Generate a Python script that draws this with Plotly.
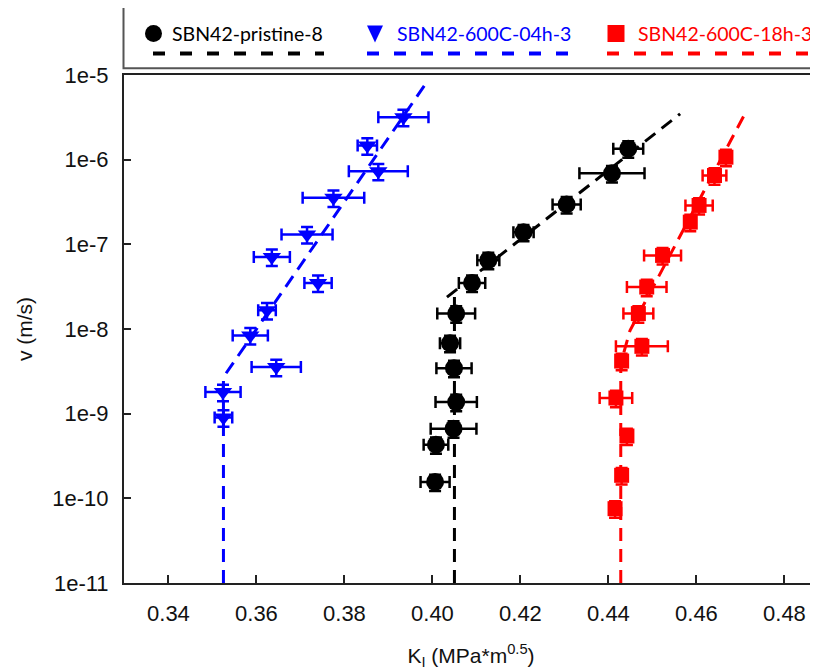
import plotly.graph_objects as go

# ---------------- data ----------------
black_name = "SBN42-pristine-8"
black_k = [0.4445, 0.4408, 0.4305, 0.4207, 0.4127, 0.4090, 0.4054, 0.4040, 0.4049, 0.4054, 0.4048, 0.4008, 0.4006]
black_v = [1.35e-6, 6.9e-7, 2.96e-7, 1.39e-7, 6.5e-8, 3.5e-8, 1.52e-8, 6.8e-9, 3.45e-9, 1.37e-9, 6.65e-10, 4.3e-10, 1.56e-10]
black_kerr = [0.0034, 0.0074, 0.0032, 0.0023, 0.0025, 0.0030, 0.0043, 0.0023, 0.0040, 0.0047, 0.0052, 0.0028, 0.0033]

blue_name = "SBN42-600C-04h-3"
blue_k = [0.3934, 0.3852, 0.3877, 0.3775, 0.3715, 0.3635, 0.3740, 0.3624, 0.3586, 0.3645, 0.3524, 0.3525]
blue_v = [3.18e-6, 1.47e-6, 7.3e-7, 3.55e-7, 1.31e-7, 7.1e-8, 3.5e-8, 1.66e-8, 8.4e-9, 3.55e-9, 1.8e-9, 9.0e-10]
blue_kerr = [0.0057, 0.0022, 0.0067, 0.0070, 0.0058, 0.0041, 0.0031, 0.0020, 0.0040, 0.0056, 0.0040, 0.0020]

red_name = "SBN42-600C-18h-3"
red_k = [0.4667, 0.4641, 0.4606, 0.4586, 0.4523, 0.4487, 0.4468, 0.4476, 0.4430, 0.4417, 0.4442, 0.4430, 0.4415]
red_v = [1.07e-6, 6.5e-7, 2.88e-7, 1.83e-7, 7.4e-8, 3.13e-8, 1.52e-8, 6.24e-9, 4.18e-9, 1.53e-9, 5.45e-10, 1.87e-10, 7.55e-11]
red_kerr = [0.0, 0.0027, 0.0031, 0.0, 0.0042, 0.0045, 0.0034, 0.0059, 0.0, 0.0037, 0.0, 0.0, 0.0]

v_err_percent = 22

# fit lines (threshold + power-law region)
black_fit_k = [0.405, 0.405, None, 0.4033, 0.4563]
black_fit_v = [1e-11, 2.5e-8, None, 2.38e-8, 3.48e-6]
blue_fit_k = [0.3525, 0.3525, None, 0.3531, 0.3987]
blue_fit_v = [1e-11, 3.0e-9, None, 3.0e-9, 8.2e-6]
red_fit_k = [0.4428, 0.4428, 0.4449, 0.4707]
red_fit_v = [1e-11, 3.9e-9, 9.6e-9, 3.24e-6]

x_ticks = [0.34, 0.36, 0.38, 0.40, 0.42, 0.44, 0.46, 0.48]
y_ticks = [1e-11, 1e-10, 1e-9, 1e-8, 1e-7, 1e-6, 1e-5]
y_ticktext = ["1e-11", "1e-10", "1e-9", "1e-8", "1e-7", "1e-6", "1e-5"]

x_title = "K<sub>I</sub> (MPa*m<sup>0.5</sup>)"
y_title = "v (m/s)"

# ---------------- figure ----------------
BLACK, BLUE, RED = "#000000", "#0000ff", "#ff0000"
OFF = 8  # page body margin of the browser
W, H = 818 - OFF, 670 - OFF
ML, MR, MT, MB = 124 - OFF, 0, 75 - OFF, 87
PW, PH = W - ML - MR, H - MT - MB


def px_x(px):
    # px measured in reference window pixels
    return (px - OFF - ML) / PW


def px_y(py):
    return (H - MB - (py - OFF)) / PH


fig = go.Figure()


def add_points(k, v, kerr, color, symbol, size):
    fig.add_trace(go.Scatter(
        x=k, y=v, mode="markers",
        marker=dict(color=color, symbol=symbol, size=size, line=dict(width=0)),
        error_x=dict(type="data", array=kerr, symmetric=True, color=color, thickness=2.5, width=6),
        error_y=dict(type="percent", value=v_err_percent, color=color, thickness=2.5, width=6),
        showlegend=False, hoverinfo="skip",
    ))


add_points(black_k, black_v, black_kerr, BLACK, "circle", 18)
add_points(blue_k, blue_v, blue_kerr, BLUE, "triangle-down", 16)
add_points(red_k, red_v, red_kerr, RED, "square", 15)

for fk, fv, col in [(black_fit_k, black_fit_v, BLACK), (blue_fit_k, blue_fit_v, BLUE), (red_fit_k, red_fit_v, RED)]:
    fig.add_trace(go.Scatter(
        x=fk, y=fv, mode="lines", connectgaps=False,
        line=dict(color=col, width=3, dash="13px,8px"),
        showlegend=False, hoverinfo="skip",
    ))

# ---- custom legend box ----
shapes = [dict(type="rect", xref="paper", yref="paper",
               x0=px_x(123.5), x1=1.05, y0=px_y(68.3), y1=px_y(6.7),
               line=dict(color="#555555", width=2), fillcolor="white", layer="above")]
annotations = []
legend_items = [
    (black_name, BLACK, "circle", 153.5, 170, 153, 324),
    (blue_name, BLUE, "tri", 375, 395, 367, 577),
    (red_name, RED, "square", 616, 636, 607, 830),
]
for name, col, kind, mx, tx, l0, l1 in legend_items:
    my = 33.5
    if kind == "circle":
        shapes.append(dict(type="circle", xref="paper", yref="paper", xsizemode="pixel", ysizemode="pixel",
                           xanchor=px_x(mx), yanchor=px_y(my), x0=-8.5, x1=8.5, y0=-8.5, y1=8.5,
                           fillcolor=col, line=dict(width=0), layer="above"))
    elif kind == "square":
        shapes.append(dict(type="rect", xref="paper", yref="paper", xsizemode="pixel", ysizemode="pixel",
                           xanchor=px_x(mx), yanchor=px_y(my), x0=-8.5, x1=8.5, y0=-8.5, y1=8.5,
                           fillcolor=col, line=dict(width=0), layer="above"))
    else:
        shapes.append(dict(type="path", xref="paper", yref="paper", xsizemode="pixel", ysizemode="pixel",
                           xanchor=px_x(mx), yanchor=px_y(my), path="M -8,8 L 8,8 L 0,-9 Z",
                           fillcolor=col, line=dict(width=0), layer="above"))
    shapes.append(dict(type="line", xref="paper", yref="paper",
                       x0=px_x(l0), x1=px_x(l1), y0=px_y(53.5), y1=px_y(53.5),
                       line=dict(color=col, width=4, dash="12px,15px"), layer="above"))
    annotations.append(dict(text=name, xref="paper", yref="paper", x=px_x(tx), y=px_y(my),
                            xanchor="left", yanchor="middle", showarrow=False,
                            font=dict(family="Lato", size=19.5, color=col)))

axis_font = dict(family="Liberation Sans, Arial", size=22, color="#111111")
title_font = dict(family="Liberation Sans, Arial", size=21, color="#111111")
fig.update_layout(
    width=W, height=H,
    margin=dict(l=ML, r=MR, t=MT, b=MB),
    paper_bgcolor="white", plot_bgcolor="white",
    shapes=shapes, annotations=annotations,
    xaxis=dict(range=[0.3299, 0.3299 + PW / 4400], tickvals=x_ticks, tickformat=".2f",
               ticks="inside", ticklen=8, tickwidth=1.5, tickcolor="#222222",
               showline=True, linecolor="#222222", linewidth=2, mirror=True,
               showgrid=False, zeroline=False, tickfont=axis_font, ticklabelstandoff=10,
               title=dict(text=x_title, font=title_font, standoff=26)),
    yaxis=dict(type="log", range=[-11, -5], tickvals=y_ticks, ticktext=y_ticktext,
               ticks="inside", ticklen=7, tickwidth=1.5, tickcolor="#222222",
               showline=True, linecolor="#222222", linewidth=2, mirror=False,
               showgrid=False, zeroline=False, tickfont=axis_font, ticklabelstandoff=9,
               title=dict(text=y_title, font=title_font, standoff=14)),
)

fig.write_html("out.html")
